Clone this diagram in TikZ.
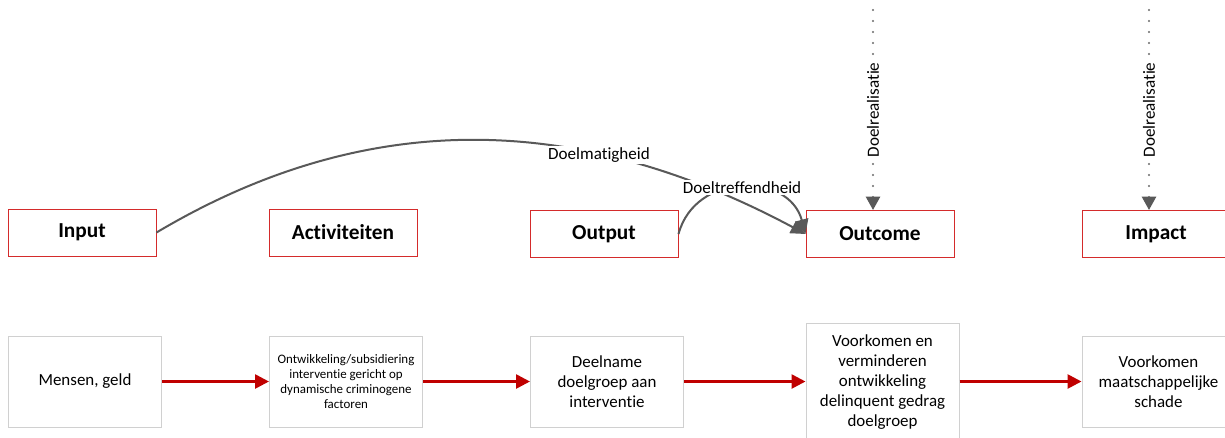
\documentclass[tikz,border=0pt]{standalone}
\usepackage{fontspec}
\setmainfont[Ligatures={NoCommon}]{Carlito}
\usetikzlibrary{arrows.meta}
\definecolor{boxred}{HTML}{D42B2B}
\definecolor{arrred}{HTML}{C00000}
\definecolor{boxgray}{HTML}{D0D0D0}
\definecolor{curvegray}{HTML}{595959}
\definecolor{dotgray}{HTML}{6A6A6A}
\begin{document}
\begin{tikzpicture}[x=0.75pt,y=-0.75pt,
  topbox/.style={draw=boxred, line width=0.75pt, minimum width=111pt, minimum height=35.25pt, inner sep=0pt, font=\fontsize{16}{19}\selectfont\bfseries},
  botbox/.style={draw=boxgray, line width=0.75pt, minimum width=114.75pt, minimum height=68.25pt, inner sep=0pt, align=center, font=\fontsize{12.7}{15}\selectfont},
  flow/.style={draw=arrred, line width=2pt, -{Triangle[length=10.5pt,width=10.5pt]}},
  relcurve/.style={draw=curvegray, line width=1.5pt, -{Triangle[length=11pt,width=10pt]}},
  goal/.style={draw=dotgray, line width=1.8pt, line cap=round, dash pattern=on 0pt off 8.25pt, -{Triangle[length=10pt,width=10.5pt,color=curvegray]}},
  lbl/.style={fill=white, inner sep=1pt, font=\fontsize{12.8}{15}\selectfont}
]
\useasboundingbox (0,0) rectangle (1225,437);
\clip (0,0) rectangle (1225,437);
\fill[white] (0,0) rectangle (1225,437);

% top row
\node[topbox] (input)  at (82,232.5)  {Input};
\node[topbox] (activ)  at (343,232.5) {Activiteiten};
\node[topbox] (output) at (604,234)   {Output};
\node[topbox] (outcome) at (880,234)  {Outcome};
\node[topbox] (impact) at (1156,234)  {Impact};

% bottom row
\node[botbox] (mensen) at (85,381.5) {Mensen, geld};
\node[botbox, font=\fontsize{9.7}{11.3}\selectfont] (ontw) at (346,381.5) {Ontwikkeling/subsidiering\\interventie gericht op\\dynamische criminogene\\factoren};
\node[botbox] (deel) at (607,381.5) {Deelname\\doelgroep aan\\interventie};
\node[botbox, minimum height=88.5pt] (voork) at (882.5,382) {Voorkomen en\\verminderen\\ontwikkeling\\delinquent gedrag\\doelgroep};
\node[botbox] (maat) at (1158.5,381.5) {Voorkomen\\maatschappelijke\\schade};

\draw[flow] (mensen.east) -- (ontw.west);
\draw[flow] (ontw.east) -- (deel.west);
\draw[flow] (deel.east) -- (deel.east -| voork.west);
\draw[flow] (voork.east |- maat.west) -- (maat.west);

% relation curves
\draw[relcurve] (input.east) .. controls (386,96) and (600,124) .. node[lbl,pos=0.67] {Doelmatigheid} (outcome.west);
\draw[relcurve] (output.east) to[out=75,in=105,looseness=1.3] node[lbl] {Doeltreffendheid} (outcome.west);

% goal realisation
\coordinate (g1) at (873,10);
\coordinate (g2) at (1149,10);
\draw[goal] (g1) -- node[lbl, rotate=90] {Doelrealisatie} (g1 |- outcome.north);
\draw[goal] (g2) -- node[lbl, rotate=90] {Doelrealisatie} (g2 |- impact.north);
\end{tikzpicture}
\end{document}
